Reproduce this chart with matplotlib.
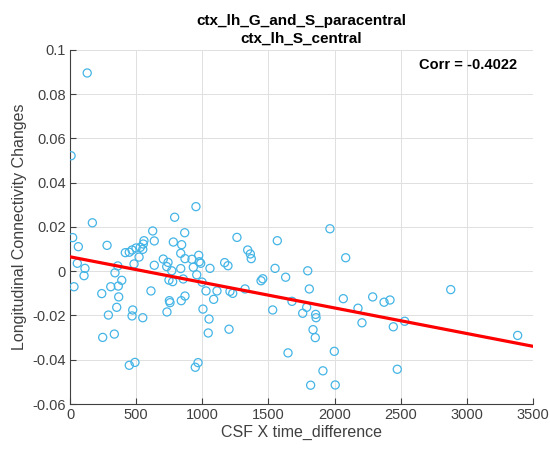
import numpy as np
import matplotlib
matplotlib.use("Agg")
import matplotlib.pyplot as plt

# CSF x time_difference vs longitudinal connectivity change
csf_time = [130, 8, 20, 30, 63, 55, 113, 106, 169, 240, 247, 280, 290, 308, 335,
            340, 353, 361, 365, 368, 391, 418, 448, 448, 469, 474, 469, 484, 491,
            499, 522, 531, 550, 550, 554, 559, 612, 625, 637, 637, 705, 731, 733,
            741, 748, 751, 756, 769, 776, 781, 791, 837, 837, 841, 844, 856, 867,
            869, 869, 922, 932, 952, 958, 968, 947, 973, 977, 988, 998, 1005, 1028,
            1051, 1045, 1058, 1086, 1111, 1169, 1194, 1202, 1209, 1230, 1262, 1323,
            1343, 1363, 1370, 1444, 1457, 1532, 1550, 1567, 1630, 1648, 1678, 1759,
            1797, 1809, 1789, 1837, 1819, 1965, 2084, 1857, 1860, 1854, 1912, 2005,
            1998, 2066, 2177, 2207, 2288, 2374, 2419, 2444, 2530, 2474, 2878, 3384]
conn_change = [0.0896, 0.0522, 0.0152, -0.0070, 0.0111, 0.0036, 0.0013, -0.0020,
               0.0219, -0.0101, -0.0299, 0.0117, -0.0198, -0.0070, -0.0284, -0.0007,
               -0.0163, 0.0024, -0.0067, -0.0116, -0.0041, 0.0084, 0.0086, -0.0425,
               0.0096, -0.0175, -0.0202, 0.0033, -0.0412, 0.0105, 0.0064, 0.0108,
               0.0099, -0.0210, 0.0123, 0.0138, -0.0089, 0.0182, 0.0137, 0.0027,
               0.0055, 0.0021, -0.0184, 0.0040, -0.0040, -0.0133, -0.0142, 0.0002,
               -0.0047, 0.0132, 0.0244, 0.0012, 0.0081, -0.0133, 0.0120, -0.0035,
               0.0174, 0.0057, -0.0112, 0.0054, 0.0018, 0.0292, -0.0016, -0.0413,
               -0.0434, 0.0072, 0.0043, 0.0036, -0.0049, -0.0171, -0.0089, -0.0216,
               -0.0279, 0.0013, -0.0127, -0.0089, 0.0039, 0.0025, -0.0262, -0.0091,
               -0.0100, 0.0153, -0.0080, 0.0096, 0.0078, 0.0057, -0.0043, -0.0034,
               -0.0175, 0.0013, 0.0138, -0.0027, -0.0369, -0.0136, -0.0190, 0.0002,
               -0.0080, -0.0163, -0.0264, -0.0515, 0.0192, 0.0061, -0.0195, -0.0210,
               -0.0300, -0.0450, -0.0514, -0.0362, -0.0124, -0.0167, -0.0233, -0.0116,
               -0.0140, -0.0130, -0.0251, -0.0226, -0.0443, -0.0083, -0.0290]

x_ticks = [0, 500, 1000, 1500, 2000, 2500, 3000, 3500]
y_ticks = [-0.06, -0.04, -0.02, 0, 0.02, 0.04, 0.06, 0.08, 0.1]
y_tick_labels = ["-0.06", "-0.04", "-0.02", "0", "0.02", "0.04", "0.06", "0.08", "0.1"]

plt.rcParams['font.family'] = ['Liberation Sans', 'DejaVu Sans']
axis_grey = (0.25, 0.25, 0.25)

fig = plt.figure(figsize=(5.5, 4.51), dpi=100)
ax = fig.add_axes([0.1273, 0.1042, 0.8418, 0.785])

x = np.array(csf_time, dtype=float)
y = np.array(conn_change, dtype=float)

ax.scatter(x, y, s=34, facecolors='none', edgecolors=(0.27, 0.71, 0.9),
           linewidths=0.9, zorder=3)

# least-squares line
slope, intercept = np.polyfit(x, y, 1)
xx = np.array([0, 3500])
ax.plot(xx, slope * xx + intercept, color='red', linewidth=2.3, zorder=4)

ax.set_xlim(0, 3500)
ax.set_ylim(-0.06, 0.1)
ax.set_xticks(x_ticks)
ax.set_yticks(y_ticks)
ax.set_yticklabels(y_tick_labels)
ax.grid(True, color=(0.88, 0.88, 0.88), linewidth=0.7)
ax.set_axisbelow(True)

for side in ['top', 'right']:
    ax.spines[side].set_visible(False)
for side in ['left', 'bottom']:
    ax.spines[side].set_color(axis_grey)
    ax.spines[side].set_linewidth(0.8)
ax.tick_params(direction='in', length=4, width=0.8, colors=axis_grey,
               labelsize=10.5, pad=3)

ax.set_xlabel("CSF X time_difference", fontsize=11.5, color=axis_grey, labelpad=2)
ax.set_ylabel("Longitudinal Connectivity Changes", fontsize=11.5, color=axis_grey,
              labelpad=4)
ax.set_title("ctx_lh_G_and_S_paracentral\nctx_lh_S_central", fontsize=11,
             fontweight='bold', linespacing=1.4, pad=5)

ax.text(2640, 0.093, "Corr = -0.4022", fontsize=10.5, fontweight='bold',
        va='center', ha='left')

fig.savefig("out.png", dpi=100)
